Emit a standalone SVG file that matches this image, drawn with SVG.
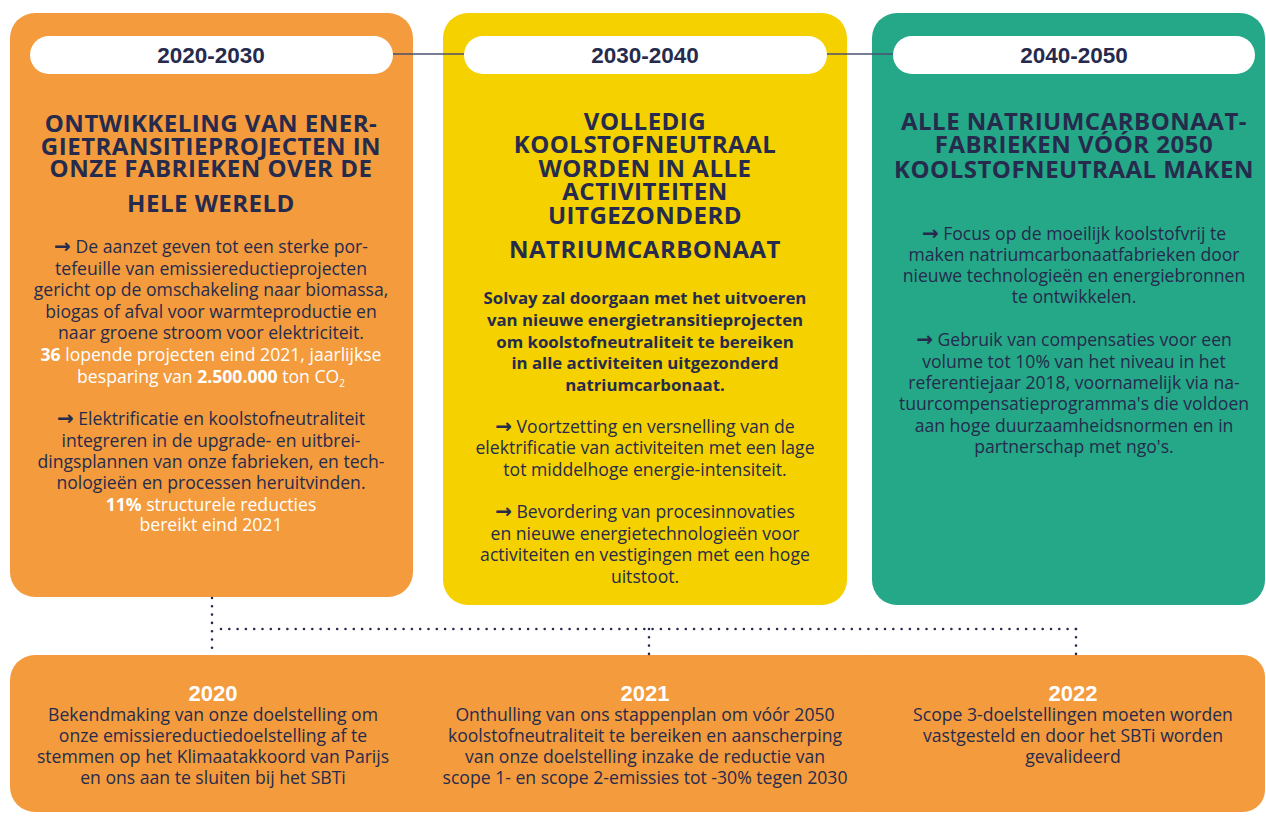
<svg xmlns="http://www.w3.org/2000/svg" width="1266" height="831" viewBox="0 0 1266 831">
<style>
.orange{fill:#F39B3D}
.yellow{fill:#F5D100}
.green{fill:#24A887}
.pill{fill:#FFFFFF}
.pilltxt{font-family:"Liberation Sans",Arial,sans-serif;font-weight:700;font-size:22.5px;fill:#262B4D;text-anchor:middle}
.title{font-family:"Open Sans","Liberation Sans",sans-serif;font-weight:700;font-size:24px;letter-spacing:0.5px;fill:#262B4D;text-anchor:middle}
.body{font-family:"Open Sans","Liberation Sans",sans-serif;font-size:17.6px;fill:#262B4D;text-anchor:middle}
.bold{font-weight:700}
.white{fill:#FFFFFF}
.arr{font-family:"DejaVu Sans",sans-serif;font-size:20px;font-weight:700}
.sbody{font-family:"Open Sans","Liberation Sans",sans-serif;font-weight:700;font-size:16.8px;fill:#262B4D;text-anchor:middle}
.year{font-family:"Liberation Sans",Arial,sans-serif;font-weight:700;font-size:22px;fill:#FFFFFF;text-anchor:middle}
.line{stroke:#4B5071;stroke-width:1.3;fill:none}
.dots{stroke:#262B4D;stroke-width:2.6;stroke-linecap:round;stroke-dasharray:0 8.3;fill:none}
</style>

<g id="period-2020-2030">
<rect class="orange" x="10" y="13" width="403" height="584" rx="25"/>
<rect class="pill" x="30" y="36" width="363" height="38" rx="19"/>
<text class="pilltxt" x="211" y="63">2020-2030</text>
<text class="title"><tspan x="211" y="132">ONTWIKKELING VAN ENER-</tspan><tspan x="211" y="155">GIETRANSITIEPROJECTEN IN</tspan><tspan x="211" y="177">ONZE FABRIEKEN OVER DE</tspan><tspan x="211" y="212">HELE WERELD</tspan></text>
<text class="body"><tspan x="211" y="253"><tspan class="arr">→</tspan> De aanzet geven tot een sterke por-</tspan><tspan x="211" y="275">tefeuille van emissiereductieprojecten</tspan><tspan x="211" y="296">gericht op de omschakeling naar biomassa,</tspan><tspan x="211" y="318">biogas of afval voor warmteproductie en</tspan><tspan x="211" y="339">naar groene stroom voor elektriciteit.</tspan><tspan class="white" x="211" y="361"><tspan class="bold">36</tspan> lopende projecten eind 2021, jaarlijkse</tspan><tspan class="white" x="211" y="383">besparing van <tspan class="bold">2.500.000</tspan> ton CO<tspan font-size="10" dy="4">2</tspan></tspan></text>
<text class="body"><tspan x="211" y="425"><tspan class="arr">→</tspan> Elektrificatie en koolstofneutraliteit</tspan><tspan x="211" y="447">integreren in de upgrade- en uitbrei-</tspan><tspan x="211" y="468">dingsplannen van onze fabrieken, en tech-</tspan><tspan x="211" y="489">nologieën en processen heruitvinden.</tspan><tspan class="white" x="211" y="511"><tspan class="bold">11%</tspan> structurele reducties</tspan><tspan class="white" x="211" y="531">bereikt eind 2021</tspan></text>
</g>

<g id="period-2030-2040">
<rect class="yellow" x="443" y="13" width="404" height="592" rx="25"/>
<rect class="pill" x="464" y="36" width="363" height="38" rx="19"/>
<text class="pilltxt" x="645" y="63">2030-2040</text>
<text class="title"><tspan x="645" y="130">VOLLEDIG</tspan><tspan x="645" y="153">KOOLSTOFNEUTRAAL</tspan><tspan x="645" y="177">WORDEN IN ALLE</tspan><tspan x="645" y="200">ACTIVITEITEN</tspan><tspan x="645" y="224">UITGEZONDERD</tspan><tspan x="645" y="258">NATRIUMCARBONAAT</tspan></text>
<text class="sbody"><tspan x="645" y="304">Solvay zal doorgaan met het uitvoeren</tspan><tspan x="645" y="326">van nieuwe energietransitieprojecten</tspan><tspan x="645" y="348">om koolstofneutraliteit te bereiken</tspan><tspan x="645" y="369">in alle activiteiten uitgezonderd</tspan><tspan x="645" y="391">natriumcarbonaat.</tspan></text>
<text class="body"><tspan x="645" y="433"><tspan class="arr">→</tspan> Voortzetting en versnelling van de</tspan><tspan x="645" y="454">elektrificatie van activiteiten met een lage</tspan><tspan x="645" y="476">tot middelhoge energie-intensiteit.</tspan></text>
<text class="body"><tspan x="645" y="518"><tspan class="arr">→</tspan> Bevordering van procesinnovaties</tspan><tspan x="645" y="540">en nieuwe energietechnologieën voor</tspan><tspan x="645" y="561">activiteiten en vestigingen met een hoge</tspan><tspan x="645" y="583">uitstoot.</tspan></text>
</g>

<g id="period-2040-2050">
<rect class="green" x="872" y="13" width="393" height="592" rx="25"/>
<rect class="pill" x="893" y="36" width="362" height="38" rx="19"/>
<text class="pilltxt" x="1074" y="63">2040-2050</text>
<text class="title"><tspan x="1074" y="130">ALLE NATRIUMCARBONAAT-</tspan><tspan x="1074" y="153">FABRIEKEN VÓÓR 2050</tspan><tspan x="1074" y="178">KOOLSTOFNEUTRAAL MAKEN</tspan></text>
<text class="body"><tspan x="1074" y="240"><tspan class="arr">→</tspan> Focus op de moeilijk koolstofvrij te</tspan><tspan x="1074" y="261">maken natriumcarbonaatfabrieken door</tspan><tspan x="1074" y="282">nieuwe technologieën en energiebronnen</tspan><tspan x="1074" y="303">te ontwikkelen.</tspan></text>
<text class="body"><tspan x="1074" y="346"><tspan class="arr">→</tspan> Gebruik van compensaties voor een</tspan><tspan x="1074" y="368">volume tot 10% van het niveau in het</tspan><tspan x="1074" y="389">referentiejaar 2018, voornamelijk via na-</tspan><tspan x="1074" y="410">tuurcompensatieprogramma's die voldoen</tspan><tspan x="1074" y="432">aan hoge duurzaamheidsnormen en in</tspan><tspan x="1074" y="453">partnerschap met ngo's.</tspan></text>
</g>

<g id="milestone-2020">
<rect class="orange" x="10" y="655" width="440" height="157" rx="25"/>
<text class="year" x="213" y="701">2020</text>
<text class="body"><tspan x="213" y="721">Bekendmaking van onze doelstelling om</tspan><tspan x="213" y="742">onze emissiereductiedoelstelling af te</tspan><tspan x="213" y="763">stemmen op het Klimaatakkoord van Parijs</tspan><tspan x="213" y="784">en ons aan te sluiten bij het SBTi</tspan></text>
</g>

<g id="milestone-2021">
<rect class="orange" x="420" y="655" width="460" height="157"/>
<text class="year" x="645" y="701">2021</text>
<text class="body"><tspan x="645" y="721">Onthulling van ons stappenplan om vóór 2050</tspan><tspan x="645" y="742">koolstofneutraliteit te bereiken en aanscherping</tspan><tspan x="645" y="763">van onze doelstelling inzake de reductie van</tspan><tspan x="645" y="784">scope 1- en scope 2-emissies tot -30% tegen 2030</tspan></text>
</g>

<g id="milestone-2022">
<rect class="orange" x="850" y="655" width="415" height="157" rx="22"/>
<text class="year" x="1073" y="701">2022</text>
<text class="body"><tspan x="1073" y="721">Scope 3-doelstellingen moeten worden</tspan><tspan x="1073" y="742">vastgesteld en door het SBTi worden</tspan><tspan x="1073" y="763">gevalideerd</tspan></text>
</g>

<g id="connectors">
<line class="line" x1="393" y1="54" x2="464" y2="54"/>
<line class="line" x1="827" y1="54" x2="893" y2="54"/>
<line class="dots" x1="212" y1="598" x2="212" y2="655"/>
<line class="dots" x1="221" y1="629" x2="1076" y2="629"/>
<line class="dots" x1="649" y1="629" x2="649" y2="655"/>
<line class="dots" x1="1076" y1="629" x2="1076" y2="655"/>
</g>
</svg>
